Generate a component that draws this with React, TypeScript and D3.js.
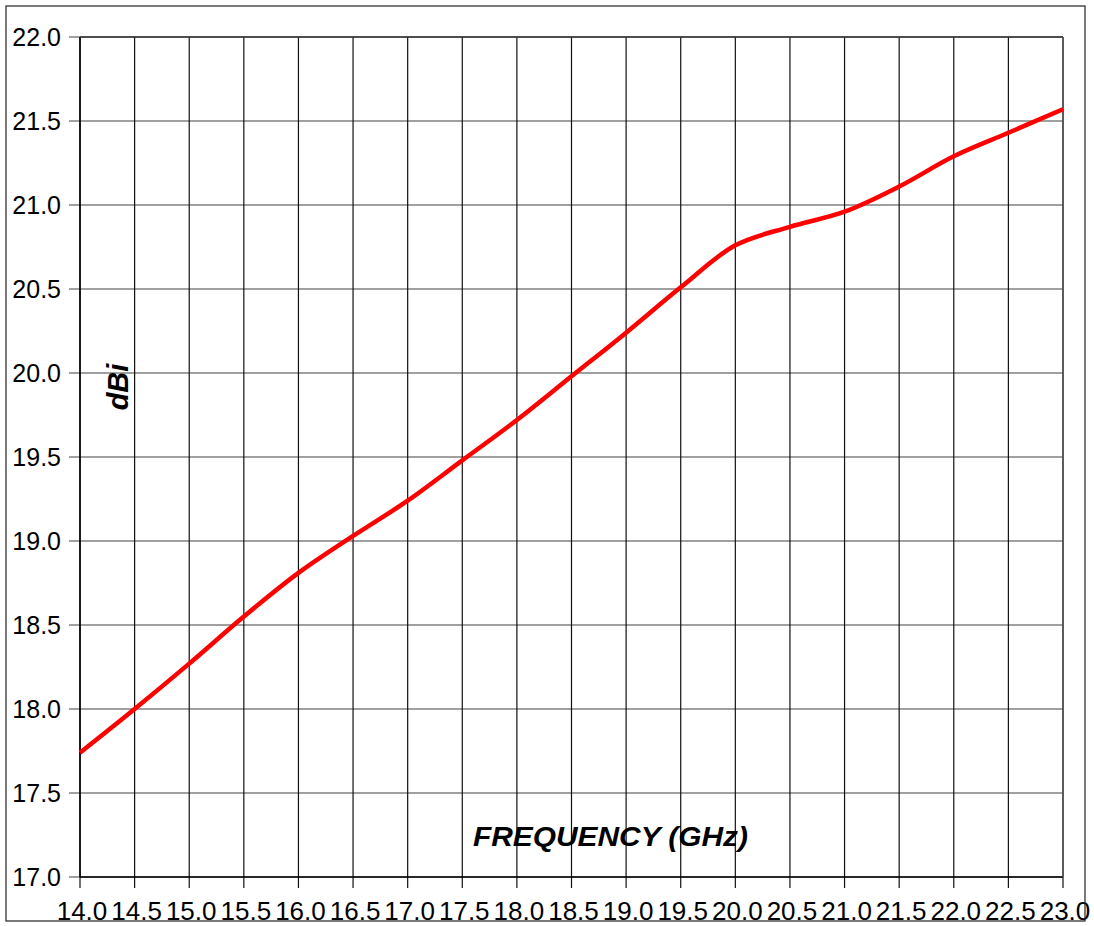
import * as d3 from "d3";

const freqs = [14.0, 14.5, 15.0, 15.5, 16.0, 16.5, 17.0, 17.5, 18.0, 18.5, 19.0, 19.5, 20.0, 20.5, 21.0, 21.5, 22.0, 22.5, 23.0];
const gain = [17.74, 18.0, 18.27, 18.55, 18.81, 19.03, 19.24, 19.48, 19.72, 19.98, 20.24, 20.51, 20.76, 20.87, 20.96, 21.11, 21.29, 21.43, 21.57];
const yTicks = [17.0, 17.5, 18.0, 18.5, 19.0, 19.5, 20.0, 20.5, 21.0, 21.5, 22.0];

const W = 1094, H = 926;
const PL = 80, PR = 1063, PT = 37, PB = 877;
const FONT = "'Liberation Sans', Arial, sans-serif";

export default function App() {
  const x = d3.scaleLinear([14, 23], [PL, PR]);
  const y = d3.scaleLinear([17, 22], [PB, PT]);
  const pts = freqs.map((f, i) => [f, gain[i]] as [number, number]);
  const line = d3.line<[number, number]>()
    .x((d) => x(d[0]))
    .y((d) => y(d[1]))
    .curve(d3.curveCatmullRom.alpha(0.5));

  return (
    <svg width={W} height={H} style={{ display: "block", position: "absolute", left: 0, top: 0, background: "#fff" }}>
      {/* horizontal grid (gray) */}
      {yTicks.map((t) => (
        <g key={t}>
          <line x1={PL - 11} x2={PR} y1={y(t)} y2={y(t)} stroke="#808080" strokeWidth={1.5} />
          <text x={61} y={y(t) + 9} textAnchor="end" fontSize={25} fontFamily={FONT} fill="#000">
            {t.toFixed(1)}
          </text>
        </g>
      ))}

      {/* vertical grid (dark) */}
      {freqs.map((f) => (
        <line key={f} x1={x(f)} x2={x(f)} y1={PT} y2={PB + 11} stroke="#111" strokeWidth={1.2} />
      ))}

      {/* plot frame */}
      <line x1={PL} x2={PL} y1={PT} y2={PB} stroke="#000" strokeWidth={1.5} />
      <line x1={PL} x2={PR} y1={PB} y2={PB} stroke="#000" strokeWidth={1.5} />
      <line x1={PL} x2={PR} y1={PT} y2={PT} stroke="#333" strokeWidth={1.5} />
      <line x1={PR} x2={PR} y1={PT} y2={PB} stroke="#555" strokeWidth={1.5} />

      {/* curve */}
      <path d={line(pts) ?? ""} fill="none" stroke="#ff0000" strokeWidth={4.5} strokeLinejoin="round" />

      {/* x labels */}
      {freqs.map((f) => (
        <text key={f} x={x(f) + 2} y={920} textAnchor="middle" fontSize={26} fontFamily={FONT} fill="#000">
          {f.toFixed(1)}
        </text>
      ))}

      {/* axis titles */}
      <text x={473} y={846} fontSize={28} fontWeight="bold" fontStyle="italic" fontFamily={FONT} fill="#000"
        textLength={275} lengthAdjust="spacingAndGlyphs">
        FREQUENCY (GHz)
      </text>
      <text transform={`translate(128,387) rotate(-90)`} textAnchor="middle" fontSize={29} fontWeight="bold"
        fontStyle="italic" fontFamily={FONT} fill="#000">
        dBi
      </text>

      {/* outer border */}
      <rect x={6} y={6} width={1079} height={915} fill="none" stroke="#222" strokeWidth={1.2} />
    </svg>
  );
}
